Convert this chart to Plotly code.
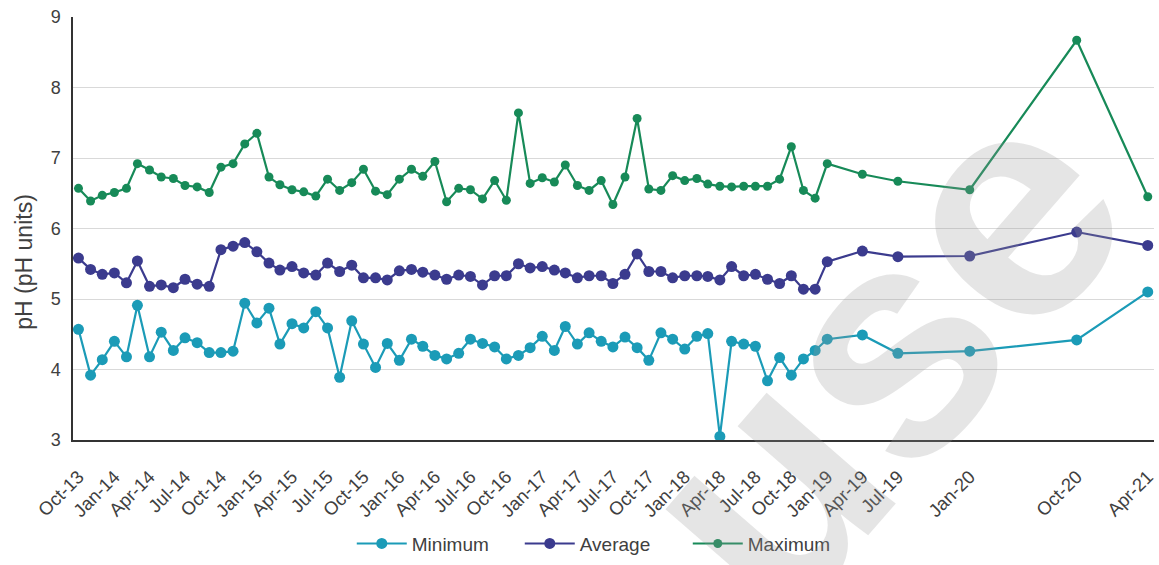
import plotly.graph_objects as go

dates = [
    "2013-10-01", "2013-11-01", "2013-12-01",
    "2014-01-01", "2014-02-01", "2014-03-01", "2014-04-01", "2014-05-01", "2014-06-01",
    "2014-07-01", "2014-08-01", "2014-09-01", "2014-10-01", "2014-11-01", "2014-12-01",
    "2015-01-01", "2015-02-01", "2015-03-01", "2015-04-01", "2015-05-01", "2015-06-01",
    "2015-07-01", "2015-08-01", "2015-09-01", "2015-10-01", "2015-11-01", "2015-12-01",
    "2016-01-01", "2016-02-01", "2016-03-01", "2016-04-01", "2016-05-01", "2016-06-01",
    "2016-07-01", "2016-08-01", "2016-09-01", "2016-10-01", "2016-11-01", "2016-12-01",
    "2017-01-01", "2017-02-01", "2017-03-01", "2017-04-01", "2017-05-01", "2017-06-01",
    "2017-07-01", "2017-08-01", "2017-09-01", "2017-10-01", "2017-11-01", "2017-12-01",
    "2018-01-01", "2018-02-01", "2018-03-01", "2018-04-01", "2018-05-01", "2018-06-01",
    "2018-07-01", "2018-08-01", "2018-09-01", "2018-10-01", "2018-11-01", "2018-12-01",
    "2019-01-01", "2019-04-01", "2019-07-01", "2020-01-01", "2020-10-01", "2021-04-01",
]

minimum = [
    4.57, 3.92, 4.14, 4.40, 4.18, 4.91, 4.18, 4.53, 4.27, 4.45,
    4.38, 4.24, 4.24, 4.26, 4.94, 4.66, 4.87, 4.36, 4.65, 4.59,
    4.82, 4.59, 3.89, 4.69, 4.36, 4.03, 4.37, 4.13, 4.43, 4.33,
    4.20, 4.15, 4.23, 4.43, 4.37, 4.32, 4.15, 4.20, 4.31, 4.47,
    4.27, 4.61, 4.36, 4.52, 4.40, 4.32, 4.46, 4.31, 4.13, 4.52,
    4.43, 4.29, 4.47, 4.51, 3.05, 4.40, 4.36, 4.33, 3.84, 4.17,
    3.92, 4.15, 4.27, 4.43,
    4.49, 4.23, 4.26, 4.42, 5.10,
]

average = [
    5.58, 5.42, 5.35, 5.37, 5.23, 5.54, 5.18, 5.20, 5.16, 5.28,
    5.21, 5.18, 5.70, 5.75, 5.80, 5.67, 5.51, 5.41, 5.46, 5.37,
    5.34, 5.51, 5.39, 5.48, 5.30, 5.30, 5.27, 5.40, 5.42, 5.38,
    5.34, 5.28, 5.34, 5.32, 5.20, 5.33, 5.33, 5.50, 5.44, 5.46,
    5.41, 5.37, 5.30, 5.33, 5.33, 5.22, 5.35, 5.64, 5.39, 5.39,
    5.30, 5.33, 5.33, 5.32, 5.27, 5.46, 5.33, 5.35, 5.28, 5.22,
    5.33, 5.14, 5.14, 5.53,
    5.68, 5.60, 5.61, 5.95, 5.76,
]

maximum = [
    6.57, 6.39, 6.47, 6.51, 6.57, 6.92, 6.83, 6.73, 6.71, 6.61,
    6.59, 6.51, 6.87, 6.92, 7.20, 7.35, 6.73, 6.62, 6.55, 6.52,
    6.46, 6.70, 6.54, 6.65, 6.84, 6.53, 6.48, 6.70, 6.84, 6.74,
    6.95, 6.38, 6.57, 6.55, 6.42, 6.68, 6.40, 7.64, 6.64, 6.72,
    6.66, 6.90, 6.61, 6.54, 6.68, 6.34, 6.73, 7.56, 6.56, 6.54,
    6.75, 6.68, 6.71, 6.63, 6.60, 6.59, 6.60, 6.60, 6.60, 6.70,
    7.16, 6.54, 6.43, 6.92,
    6.77, 6.67, 6.55, 8.67, 6.45,
]

tick_vals = [
    "2013-10-01", "2014-01-01", "2014-04-01", "2014-07-01", "2014-10-01",
    "2015-01-01", "2015-04-01", "2015-07-01", "2015-10-01",
    "2016-01-01", "2016-04-01", "2016-07-01", "2016-10-01",
    "2017-01-01", "2017-04-01", "2017-07-01", "2017-10-01",
    "2018-01-01", "2018-04-01", "2018-07-01", "2018-10-01",
    "2019-01-01", "2019-04-01", "2019-07-01",
    "2020-01-01", "2020-10-01", "2021-04-01",
]
tick_text = [
    "Oct-13", "Jan-14", "Apr-14", "Jul-14", "Oct-14",
    "Jan-15", "Apr-15", "Jul-15", "Oct-15",
    "Jan-16", "Apr-16", "Jul-16", "Oct-16",
    "Jan-17", "Apr-17", "Jul-17", "Oct-17",
    "Jan-18", "Apr-18", "Jul-18", "Oct-18",
    "Jan-19", "Apr-19", "Jul-19",
    "Jan-20", "Oct-20", "Apr-21",
]

FONT = "Liberation Sans, Arial, sans-serif"

fig = go.Figure()
series = [
    ("Minimum", minimum, "#1b9bb7", 11),
    ("Average", average, "#3b3b8e", 11),
    ("Maximum", maximum, "#178a58", 9),
]
for name, vals, color, msize in series:
    fig.add_trace(go.Scatter(
        x=dates, y=vals, name=name, mode="lines+markers",
        line=dict(color=color, width=2.2),
        marker=dict(color=color, size=msize),
    ))

# watermark
fig.add_annotation(
    text="<b>use</b>", xref="paper", yref="paper", x=0.745, y=0.205,
    xanchor="center", yanchor="middle",
    showarrow=False, textangle=-49,
    font=dict(family=FONT, size=322, color="rgba(150,150,150,0.25)"),
)

# y-axis title
fig.add_annotation(
    text="pH (pH units)", xref="paper", yref="paper",
    x=-0.045, y=0.42, xanchor="center", yanchor="middle",
    showarrow=False, textangle=-90,
    font=dict(family=FONT, size=23, color="#404040"),
)

fig.update_layout(
    width=1159, height=565,
    margin=dict(l=73, r=2, t=17, b=123),
    paper_bgcolor="white", plot_bgcolor="white",
    font=dict(family=FONT, color="#404040"),
    showlegend=True,
    legend=dict(
        orientation="h", x=0.491, xanchor="center", y=-0.245, yanchor="middle",
        font=dict(size=19, color="#404040"), itemwidth=50, entrywidth=103,
    ),
    xaxis=dict(
        type="date", range=["2013-09-17", "2021-04-17"],
        tickmode="array", tickvals=tick_vals, ticktext=tick_text,
        tickangle=-45, tickfont=dict(size=18.5, color="#404040"),
        showgrid=False, showline=True, linecolor="#333333", linewidth=1.5,
        ticks="", ticklabelstandoff=17, zeroline=False,
        ticklabeloverflow="allow",
    ),
    yaxis=dict(
        range=[3, 9], dtick=1, tick0=3,
        tickfont=dict(size=18, color="#404040"),
        showgrid=True, gridcolor="#d9d9d9", gridwidth=1,
        showline=True, linecolor="#333333", linewidth=1.5,
        ticks="", ticklabelstandoff=7, zeroline=False,
    ),
)

fig.write_html("out.html")
